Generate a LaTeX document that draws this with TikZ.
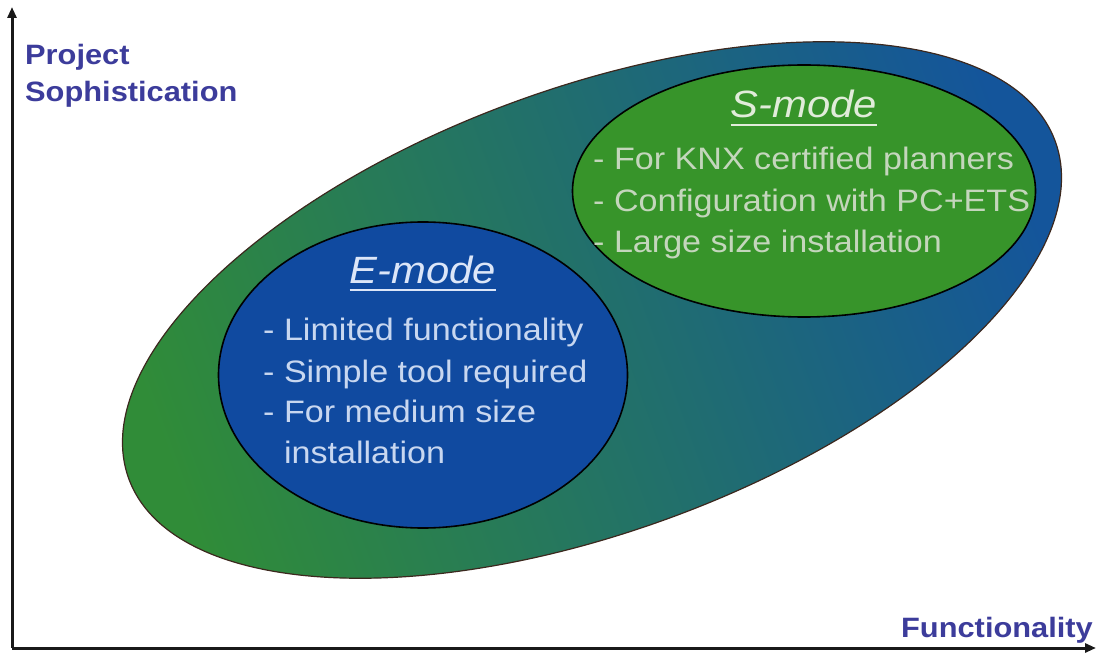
\documentclass[tikz,border=0pt]{standalone}
\usepackage{fontspec}
\setmainfont{Liberation Sans}[FakeStretch=1.1]
\usetikzlibrary{shapes.geometric,arrows.meta}
\definecolor{axislabel}{RGB}{60,60,155}
\definecolor{biggreen}{RGB}{48,140,56}
\definecolor{bigblue}{RGB}{20,85,155}
\definecolor{bigedge}{RGB}{60,40,30}
\definecolor{efill}{RGB}{16,74,160}
\definecolor{sfill}{RGB}{55,148,42}
\definecolor{etext}{RGB}{200,215,240}
\definecolor{etitle}{RGB}{220,230,248}
\definecolor{stext}{RGB}{196,214,188}
\definecolor{stitle}{RGB}{225,236,218}
\begin{document}
\begin{tikzpicture}[x=1pt,y=-1pt,
  axisline/.style={line width=3pt, black!90, -{Triangle[length=11pt,width=9pt]}},
  axlabel/.style={text=axislabel, font=\fontsize{28}{34}\selectfont\bfseries, inner sep=0pt},
  bigell/.style={draw=bigedge, line width=1.2pt, left color=biggreen, right color=bigblue, shading angle=110},
  modeell/.style={ellipse, draw=black, line width=1.6pt, inner sep=0pt},
  modetitle/.style={font=\fontsize{38}{44}\selectfont\itshape, inner sep=0pt, anchor=base},
  ebody/.style={text=etext, font=\fontsize{31}{41}\selectfont, inner sep=0pt, anchor=base west},
  sbody/.style={text=stext, font=\fontsize{31}{41}\selectfont, inner sep=0pt, anchor=base west},
  uline/.style={line width=2pt}]
\useasboundingbox (0,0) rectangle (1103,655);
% big ellipse
\begin{scope}[shift={(592,310)}, rotate=20]
  \path[bigell] (0,0) ellipse [x radius=493pt, y radius=222pt];
\end{scope}
% inner ellipses
\node[modeell, fill=sfill, minimum width=463pt, minimum height=252pt] (smode) at (804,191) {};
\node[modeell, fill=efill, minimum width=409pt, minimum height=306pt] (emode) at (423,375) {};
% S-mode text
\node[modetitle, text=stitle] (st) at (804,118) {S-mode};
\draw[uline, draw=stitle] ([yshift=-7pt]st.base west) -- ([yshift=-7pt]st.base east);
\node[sbody] (s1) at (593,170) {- For KNX certified planners};
\node[sbody] (s2) at (593,212) {- Configuration with PC+ETS};
\node[sbody] (s3) at (593,252) {- Large size installation};
% E-mode text
\node[modetitle, text=etitle] (et) at (423,283) {E-mode};
\draw[uline, draw=etitle] ([yshift=-7pt]et.base west) -- ([yshift=-7pt]et.base east);
\node[ebody] (e1) at (263,340) {- Limited functionality};
\node[ebody] (e2) at (263,382) {- Simple tool required};
\node[ebody] (e3) at (263,422) {- For medium size};
\node[ebody] (e4) at (263,463) {\phantom{- }installation};
% axes
\coordinate (origin) at (12,648);
\coordinate (ytip) at (12,7);
\coordinate (xtip) at (1096,648);
\draw[axisline] (origin) -- (ytip);
\draw[axisline] (origin) -- (xtip);
\node[axlabel, anchor=base west] (yl1) at (25,65) {Project};
\node[axlabel, anchor=base west] (yl2) at (25,102) {Sophistication};
\node[axlabel, anchor=base east] (xl) at (1093,637) {Functionality};
\end{tikzpicture}
\end{document}
